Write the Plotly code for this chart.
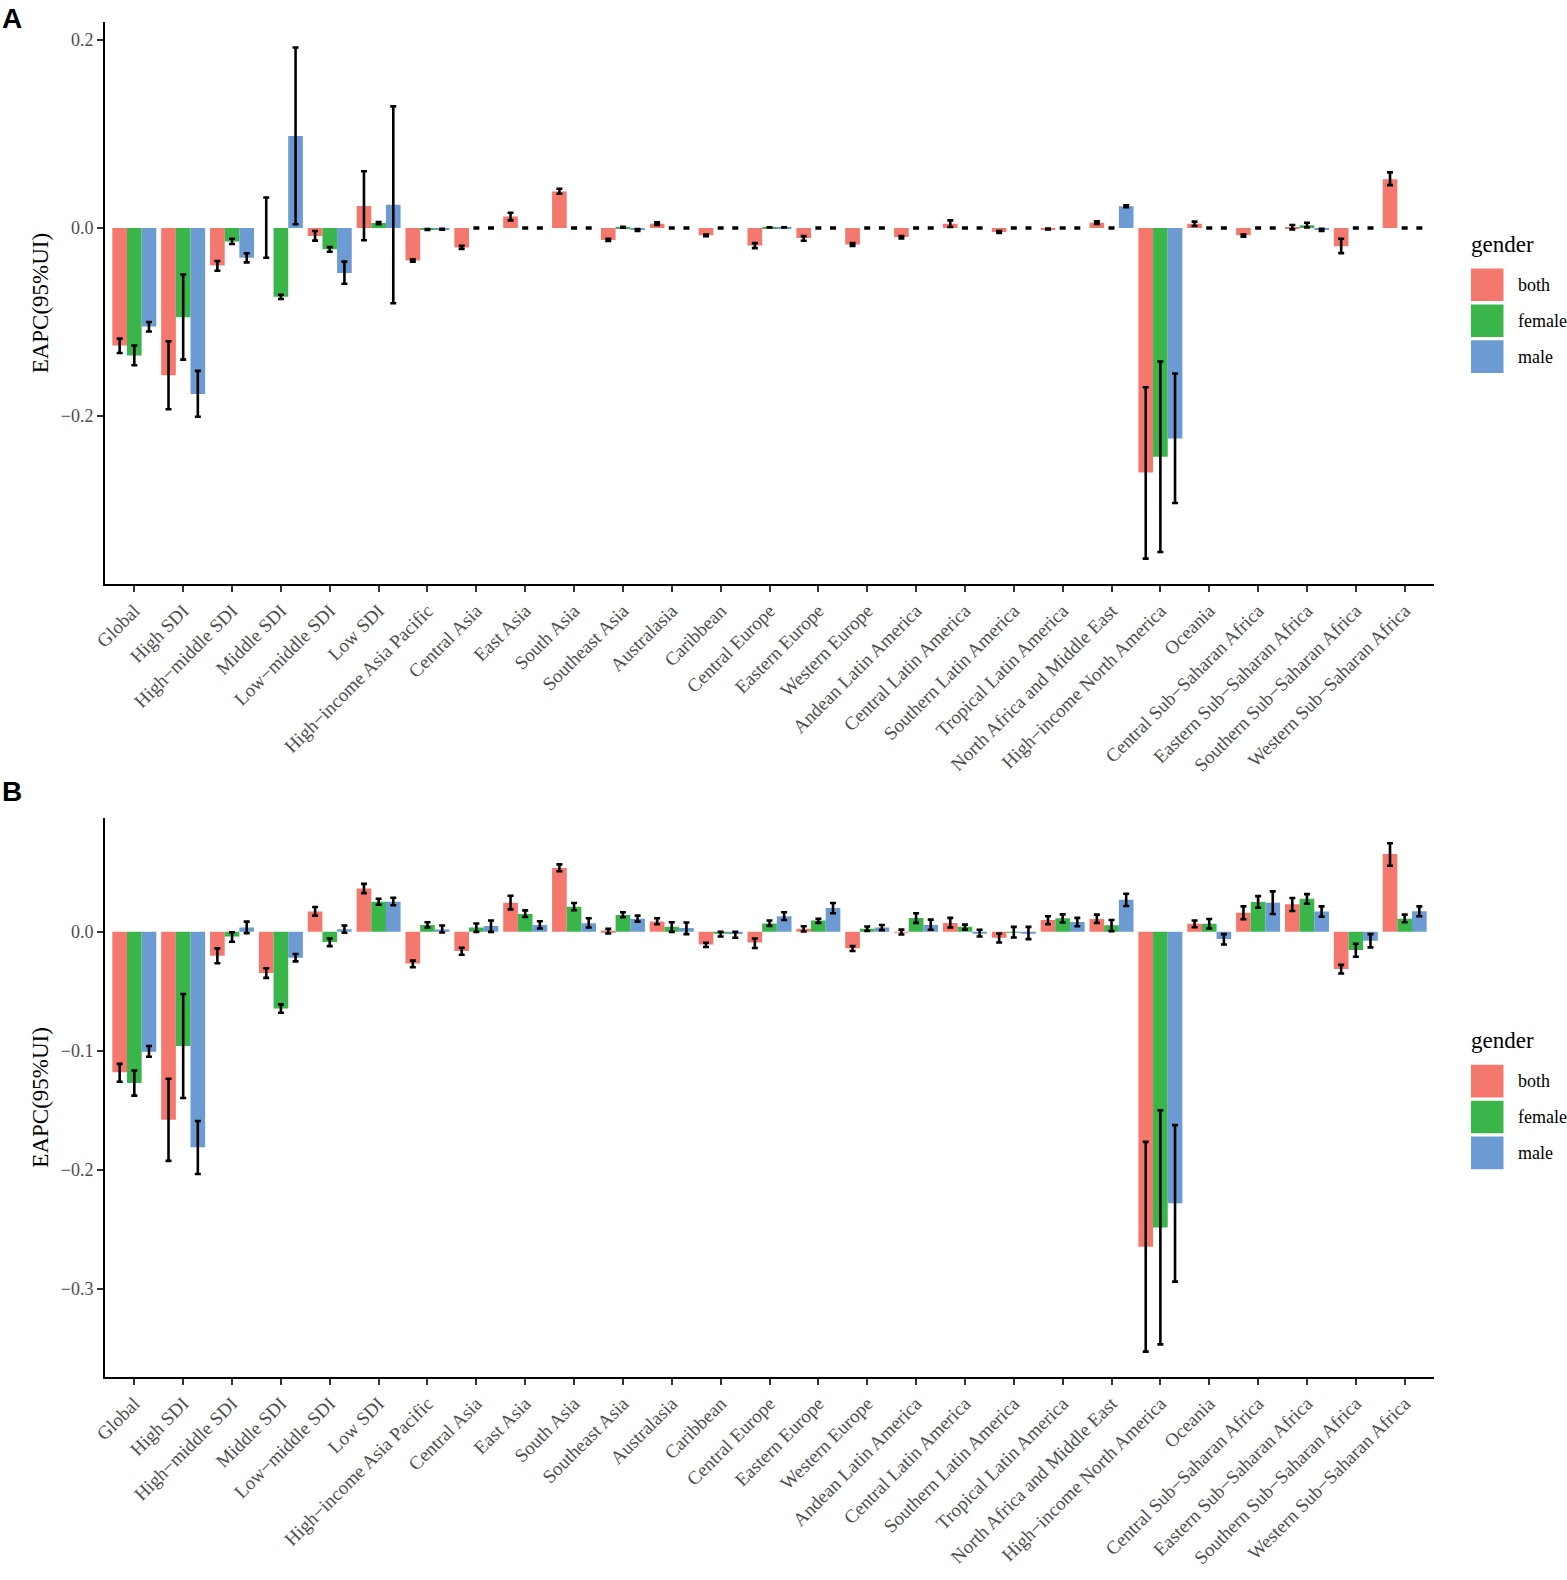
import plotly.graph_objects as go
from plotly.subplots import make_subplots

regions = ["Global", "High SDI", "High−middle SDI", "Middle SDI", "Low−middle SDI", "Low SDI",
           "High−income Asia Pacific", "Central Asia", "East Asia", "South Asia", "Southeast Asia",
           "Australasia", "Caribbean", "Central Europe", "Eastern Europe", "Western Europe",
           "Andean Latin America", "Central Latin America", "Southern Latin America",
           "Tropical Latin America", "North Africa and Middle East", "High−income North America",
           "Oceania", "Central Sub−Saharan Africa", "Eastern Sub−Saharan Africa",
           "Southern Sub−Saharan Africa", "Western Sub−Saharan Africa"]
genders = ["both", "female", "male"]

# panel A: EAPC, lower and upper 95% UI
a_both = [-0.125, -0.1566, -0.0398, 0.0, -0.0085, 0.0235, -0.0345, -0.0207, 0.0122, 0.039, -0.0126,
          0.0045, -0.0078, -0.0185, -0.0107, -0.0175, -0.0096, 0.0046, -0.0043, -0.0011, 0.0057,
          -0.26, 0.0046, -0.0078, 0.0008, -0.0193, 0.052]
a_both_lo = [-0.133, -0.1927, -0.0454, -0.0316, -0.0134, -0.013, -0.0357, -0.0223, 0.0081, 0.0365, -0.0138,
             0.0032, -0.0088, -0.0214, -0.0135, -0.019, -0.011, 0.0011, -0.0053, -0.0016, 0.0043,
             -0.3517, 0.0021, -0.0093, -0.0014, -0.0267, 0.0456]
a_both_hi = [-0.1176, -0.1205, -0.035, 0.0325, -0.0032, 0.0604, -0.0333, -0.019, 0.0162, 0.0418, -0.0114,
             0.006, -0.0068, -0.016, -0.0086, -0.016, -0.0086, 0.0082, -0.0032, -0.0006, 0.0071,
             -0.1693, 0.0068, -0.0068, 0.0032, -0.0114, 0.0592]
a_female = [-0.1355, -0.095, -0.0142, -0.073, -0.0227, 0.0053, -0.0015, 0.0, 0.0, 0.0, 0.0008,
            0.0, 0.0, 0.0007, 0.0, 0.0, 0.0, 0.0, 0.0, 0.0, 0.0,
            -0.2433, 0.0, 0.0, 0.0029, 0.0, 0.0]
a_female_lo = [-0.146, -0.14, -0.017, -0.0755, -0.0252, 0.004, -0.002, -0.0005, -0.0005, -0.0005, 0.0004,
               -0.0005, -0.0005, 0.0005, -0.0005, -0.0005, -0.0005, -0.0005, -0.0005, -0.0005, -0.0005,
               -0.3446, -0.0005, -0.0005, 0.0007, -0.0005, -0.0005]
a_female_hi = [-0.125, -0.0495, -0.0114, -0.071, -0.0203, 0.0065, -0.001, 0.0005, 0.0005, 0.0005, 0.0012,
               0.0005, 0.0005, 0.0009, 0.0005, 0.0005, 0.0005, 0.0005, 0.0005, 0.0005, 0.0005,
               -0.142, 0.0005, 0.0005, 0.0057, 0.0005, 0.0005]
a_male = [-0.1047, -0.1765, -0.0316, 0.098, -0.0479, 0.0247, -0.0012, 0.0, 0.0, 0.0, -0.002,
          0.0, 0.0, 0.0007, 0.0, 0.0, 0.0, 0.0, 0.0, 0.0, 0.0232,
          -0.2238, 0.0, 0.0, -0.0018, 0.0, 0.0]
a_male_lo = [-0.11, -0.2008, -0.0365, 0.004, -0.0592, -0.08, -0.0017, -0.0005, -0.0005, -0.0005, -0.003,
             -0.0005, -0.0005, 0.0005, -0.0005, -0.0005, -0.0005, -0.0005, -0.0005, -0.0005, 0.0221,
             -0.2925, -0.0005, -0.0005, -0.0032, -0.0005, -0.0005]
a_male_hi = [-0.1, -0.152, -0.0268, 0.192, -0.0357, 0.1294, -0.0007, 0.0005, 0.0005, 0.0005, -0.001,
             0.0005, 0.0005, 0.0009, 0.0005, 0.0005, 0.0005, 0.0005, 0.0005, 0.0005, 0.0242,
             -0.1548, 0.0005, 0.0005, -0.0007, 0.0005, 0.0005]

# panel B
b_both = [-0.118, -0.158, -0.02, -0.0345, 0.017, 0.0364, -0.0267, -0.0161, 0.0245, 0.0537, 0.0008,
          0.0086, -0.0106, -0.0089, 0.0025, -0.0139, -0.0003, 0.0075, -0.005, 0.01, 0.0108,
          -0.2646, 0.0067, 0.0161, 0.0231, -0.0312, 0.0654]
b_both_lo = [-0.126, -0.1925, -0.0264, -0.0387, 0.0136, 0.0325, -0.0298, -0.0192, 0.0189, 0.0509, -0.0014,
             0.0064, -0.0128, -0.0136, 0.0003, -0.0161, -0.0022, 0.0036, -0.0089, 0.0064, 0.0075,
             -0.3528, 0.0039, 0.0106, 0.0175, -0.035, 0.0556]
b_both_hi = [-0.111, -0.1235, -0.0139, -0.0306, 0.0209, 0.0403, -0.0242, -0.0134, 0.0303, 0.0567, 0.0025,
             0.0114, -0.0092, -0.0056, 0.0047, -0.012, 0.0019, 0.0117, -0.0014, 0.0131, 0.0145,
             -0.1765, 0.0095, 0.0214, 0.0284, -0.0278, 0.0745]
b_female = [-0.127, -0.096, -0.0039, -0.0645, -0.0086, 0.0253, 0.0058, 0.0036, 0.015, 0.0211, 0.0142,
            0.0042, -0.0017, 0.007, 0.0095, 0.0025, 0.0117, 0.0042, -0.0002, 0.0114, 0.0056,
            -0.2485, 0.0067, 0.025, 0.0278, -0.0153, 0.0111]
b_female_lo = [-0.1377, -0.1396, -0.0083, -0.068, -0.012, 0.0228, 0.0036, 0.0, 0.0125, 0.0181, 0.0122,
               0.0, -0.0039, 0.005, 0.0075, 0.0008, 0.0075, 0.0019, -0.0047, 0.0078, 0.0006,
               -0.3467, 0.0028, 0.0203, 0.0236, -0.0209, 0.0081]
b_female_hi = [-0.1166, -0.0523, -0.0003, -0.061, -0.0056, 0.0278, 0.008, 0.007, 0.018, 0.0242, 0.0164,
               0.008, 0.0, 0.0095, 0.011, 0.0045, 0.0156, 0.0061, 0.0042, 0.0147, 0.01,
               -0.15, 0.0108, 0.03, 0.0317, -0.01, 0.0145]
b_male = [-0.1007, -0.181, 0.0036, -0.0217, 0.0022, 0.0253, 0.0019, 0.005, 0.0058, 0.0072, 0.0111,
          0.0033, -0.0019, 0.0131, 0.02, 0.0036, 0.0058, -0.0011, -0.0011, 0.0083, 0.027,
          -0.2282, -0.0061, 0.0245, 0.017, -0.0075, 0.0172]
b_male_lo = [-0.105, -0.2036, -0.0011, -0.0248, -0.0008, 0.0223, -0.0006, 0.0, 0.0028, 0.0036, 0.0086,
             -0.0019, -0.005, 0.01, 0.0156, 0.0014, 0.0017, -0.0039, -0.0061, 0.0047, 0.0217,
             -0.294, -0.0106, 0.015, 0.0128, -0.0131, 0.0131]
b_male_hi = [-0.096, -0.159, 0.0086, -0.0186, 0.0053, 0.0287, 0.0053, 0.0095, 0.0089, 0.0114, 0.0136,
             0.0078, 0.0, 0.0164, 0.0242, 0.0058, 0.0103, 0.0017, 0.0042, 0.0117, 0.032,
             -0.1625, -0.0019, 0.034, 0.0214, -0.0019, 0.0214]

panels = [
    [(a_both, a_both_lo, a_both_hi), (a_female, a_female_lo, a_female_hi), (a_male, a_male_lo, a_male_hi)],
    [(b_both, b_both_lo, b_both_hi), (b_female, b_female_lo, b_female_hi), (b_male, b_male_lo, b_male_hi)],
]
colors = ["#F5786E", "#39B54A", "#6C9BD4"]

W, H = 1567, 1580
L, R, T, B = 105, 133, 22, 189
pw, ph = W - L - R, H - T - B
a_bottom, b_top = 590, 826   # pixel rows where panel A ends and panel B starts


def px_x(x):
    return (x - L) / pw


def px_y(y):
    return (H - B - y) / ph


fig = make_subplots(rows=2, cols=1, vertical_spacing=0)
serif = "Liberation Serif, Times New Roman, serif"

for p, series in enumerate(panels):
    for g, (vals, lo, hi) in enumerate(series):
        fig.add_trace(go.Bar(
            x=regions, y=vals, name=genders[g], marker_color=colors[g],
            marker_line_width=0, showlegend=False,
            error_y=dict(type="data", symmetric=False,
                         array=[h - v for v, h in zip(vals, hi)],
                         arrayminus=[v - l for v, l in zip(vals, lo)],
                         color="black", thickness=2.6, width=3),
        ), row=p + 1, col=1)

fig.update_layout(
    width=W, height=H, margin=dict(l=L, r=R, t=T, b=B),
    paper_bgcolor="white", plot_bgcolor="white",
    barmode="group", bargap=0.1, bargroupgap=0,
    font=dict(family=serif, color="black"),
)

domains = [[px_y(a_bottom), 1.0], [0.0, px_y(b_top)]]
dticks = [0.2, 0.1]
for p in range(2):
    allv = [v for s in panels[p] for arr in s[1:] for v in arr]
    lo, hi = min(allv), max(allv)
    span = hi - lo
    ax = "" if p == 0 else "2"
    fig.layout["yaxis" + ax].update(
        domain=domains[p], range=[lo - 0.05 * span, hi + 0.05 * span],
        dtick=dticks[p], tick0=0, tickformat=".1f",
        showline=True, linecolor="black", linewidth=2, mirror=False,
        ticks="outside", ticklen=6, tickwidth=2, tickcolor="#333333",
        showgrid=False, zeroline=False,
        tickfont=dict(family=serif, size=18, color="#4D4D4D"),
        title=dict(text="EAPC(95%UI)", font=dict(family=serif, size=23, color="black"), standoff=6),
    )
    fig.layout["xaxis" + ax].update(
        range=[-0.6, 26.6], tickangle=-45,
        showline=True, linecolor="black", linewidth=2,
        ticks="outside", ticklen=6, tickwidth=2, tickcolor="#333333",
        showgrid=False, zeroline=False,
        tickfont=dict(family=serif, size=19, color="#4D4D4D"),
    )

# panel letters and legends
shapes, annos = [], []
for letter, ly, off in [("A", 18, 0), ("B", 799, 804.5)]:
    annos.append(dict(text="<b>%s</b>" % letter, x=px_x(0), y=px_y(ly),
                      xref="paper", yref="paper", xanchor="left", yanchor="middle", showarrow=False,
                      font=dict(family="Liberation Sans, Arial, sans-serif", size=28, color="black")))
    annos.append(dict(text="gender", x=px_x(1469), y=px_y(247 + off), xref="paper", yref="paper",
                      xanchor="left", yanchor="middle", showarrow=False,
                      font=dict(family=serif, size=23, color="black")))
    for g in range(3):
        y0 = 271 + off + g * 36.3
        shapes.append(dict(type="rect", xref="paper", yref="paper",
                           x0=px_x(1471), x1=px_x(1503.5), y0=px_y(y0), y1=px_y(y0 + 33),
                           fillcolor=colors[g], line=dict(width=0)))
        annos.append(dict(text=genders[g], x=px_x(1516), y=px_y(y0 + 16.5), xref="paper", yref="paper",
                          xanchor="left", yanchor="middle", showarrow=False,
                          font=dict(family=serif, size=18, color="black")))

fig.update_layout(shapes=shapes, annotations=annos)
fig.write_html("out.html", config={"displayModeBar": False},
               post_script="document.body.style.margin='0';document.body.style.overflow='hidden';")
